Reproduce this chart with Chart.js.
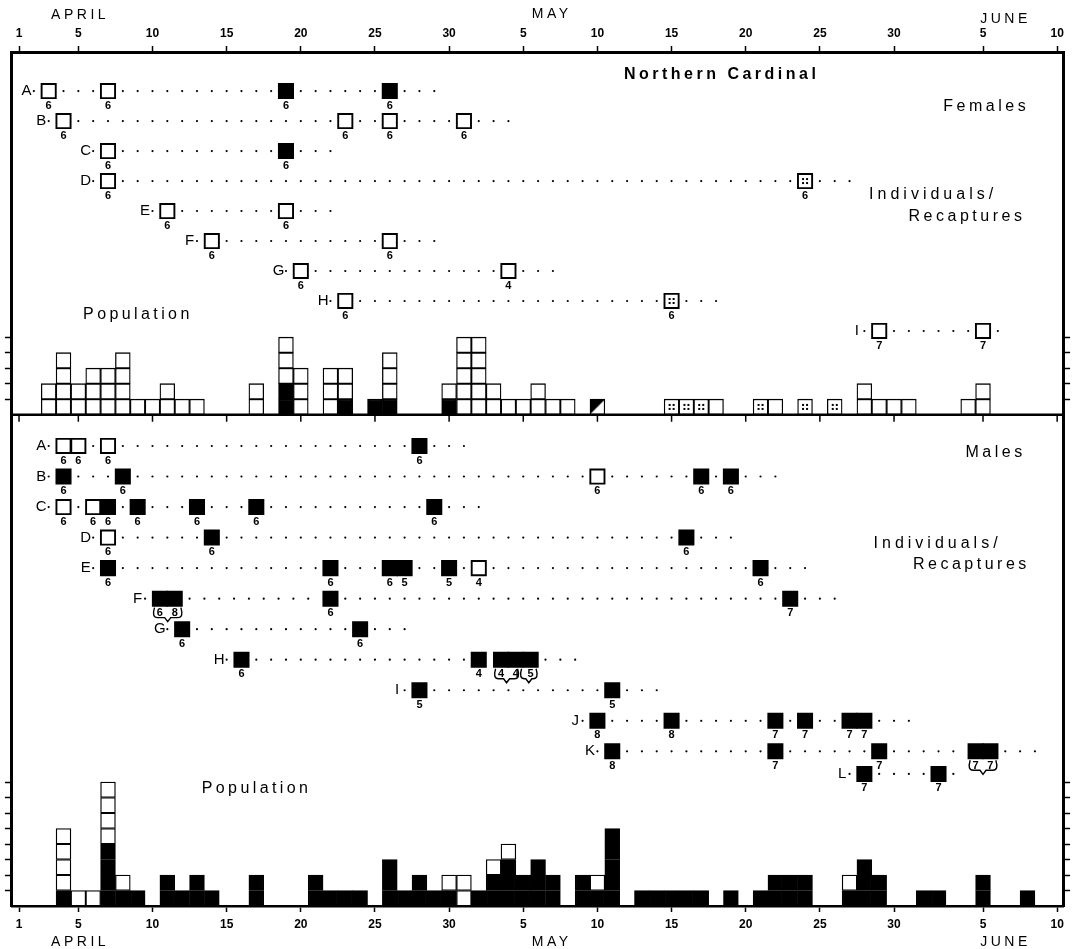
<!DOCTYPE html>
<html>
<head>
<meta charset="utf-8">
<title>Northern Cardinal</title>
<script src="https://cdn.jsdelivr.net/npm/chart.js@4.4.1/dist/chart.umd.min.js"></script>
<style>
  html, body { margin: 0; padding: 0; background: #fff; }
  canvas { display: block; }
</style>
</head>
<body>
<canvas id="chart" width="1075" height="949"></canvas>
<script>
// days counted from 1 April (1 May = 31, 1 June = 62)
const tickDays   = [1, 5, 10, 15, 20, 25, 30, 35, 40, 45, 50, 55, 60, 66, 71];
const tickLabels = ['1', '5', '10', '15', '20', '25', '30', '5', '10', '15', '20', '25', '30', '5', '10'];
const months     = ['APRIL', 'MAY', 'JUNE'];
const monthDays  = [5, 36.8, 67.4];

// population: one string per day, cells from the bottom up
// f = black, o = open, d = dotted, t = half black
const femalePopDays  = [3, 4, 5, 6, 7, 8, 9, 10, 11, 12, 13, 17, 19, 20, 22, 23, 25, 26,
                        30, 31, 32, 33, 34, 35, 36, 37, 38, 40, 45, 46, 47, 48, 51, 52, 54, 56,
                        58, 59, 60, 61, 65, 66];
const femalePopCells = ['oo', 'oooo', 'oo', 'ooo', 'ooo', 'oooo', 'o', 'o', 'oo', 'o', 'o', 'oo', 'ffooo', 'ooo', 'ooo', 'foo', 'f', 'fooo',
                        'fo', 'ooooo', 'ooooo', 'oo', 'o', 'o', 'oo', 'o', 'o', 't', 'd', 'd', 'd', 'o', 'd', 'o', 'd', 'd',
                        'oo', 'o', 'o', 'o', 'o', 'oo'];

const malePopDays  = [4, 5, 6, 7, 8, 9, 11, 12, 13, 14, 17, 21, 22, 23, 24,
                      26, 27, 28, 29, 30, 31, 32, 33, 34, 35, 36, 37, 39, 40, 41,
                      43, 44, 45, 46, 47, 49, 51, 52, 53, 54, 57, 58, 59, 62, 63, 66, 69];
const malePopCells = ['foooo', 'o', 'o', 'ffffoooo', 'fo', 'f', 'ff', 'f', 'ff', 'f', 'ff', 'ff', 'f', 'f', 'f',
                      'fff', 'f', 'ff', 'f', 'fo', 'oo', 'f', 'ffo', 'fffo', 'ff', 'fff', 'ff', 'ff', 'fo', 'fffff',
                      'f', 'f', 'f', 'f', 'f', 'f', 'f', 'ff', 'ff', 'ff', 'fo', 'fff', 'ff', 'f', 'f', 'ff', 'f'];

// captures: [bird, day, mark, number printed under it]
const femaleBirds = ['A', 'B', 'C', 'D', 'E', 'F', 'G', 'H', 'I'];
const femaleTrail = [3, 3, 3, 3, 3, 3, 3, 3, 1];
const femaleCaptures = [
  ['A', 3, 'o', '6'], ['A', 7, 'o', '6'], ['A', 19, 'f', '6'], ['A', 26, 'f', '6'],
  ['B', 4, 'o', '6'], ['B', 23, 'o', '6'], ['B', 26, 'o', '6'], ['B', 31, 'o', '6'],
  ['C', 7, 'o', '6'], ['C', 19, 'f', '6'],
  ['D', 7, 'o', '6'], ['D', 54, 'd', '6'],
  ['E', 11, 'o', '6'], ['E', 19, 'o', '6'],
  ['F', 14, 'o', '6'], ['F', 26, 'o', '6'],
  ['G', 20, 'o', '6'], ['G', 34, 'o', '4'],
  ['H', 23, 'o', '6'], ['H', 45, 'd', '6'],
  ['I', 59, 'o', '7'], ['I', 66, 'o', '7']
];

const maleBirds = ['A', 'B', 'C', 'D', 'E', 'F', 'G', 'H', 'I', 'J', 'K', 'L'];
const maleTrail = [3, 3, 3, 3, 3, 3, 3, 3, 3, 3, 3, 1];
const maleCaptures = [
  ['A', 4, 'o', '6'], ['A', 5, 'o', '6'], ['A', 7, 'o', '6'], ['A', 28, 'f', '6'],
  ['B', 4, 'f', '6'], ['B', 8, 'f', '6'], ['B', 40, 'o', '6'], ['B', 47, 'f', '6'], ['B', 49, 'f', '6'],
  ['C', 4, 'o', '6'], ['C', 6, 'o', '6'], ['C', 7, 'f', '6'], ['C', 9, 'f', '6'], ['C', 13, 'f', '6'], ['C', 17, 'f', '6'], ['C', 29, 'f', '6'],
  ['D', 7, 'o', '6'], ['D', 14, 'f', '6'], ['D', 46, 'f', '6'],
  ['E', 7, 'f', '6'], ['E', 22, 'f', '6'], ['E', 26, 'f', '6'], ['E', 27, 'f', '5'], ['E', 30, 'f', '5'], ['E', 32, 'o', '4'], ['E', 51, 'f', '6'],
  ['F', 10.5, 'f', '6'], ['F', 11.5, 'f', '8'], ['F', 22, 'f', '6'], ['F', 53, 'f', '7'],
  ['G', 12, 'f', '6'], ['G', 24, 'f', '6'],
  ['H', 16, 'f', '6'], ['H', 32, 'f', '4'], ['H', 33.5, 'f', '4'], ['H', 34.5, 'f', '4'], ['H', 35.5, 'f', '5'],
  ['I', 28, 'f', '5'], ['I', 41, 'f', '5'],
  ['J', 40, 'f', '8'], ['J', 45, 'f', '8'], ['J', 52, 'f', '7'], ['J', 54, 'f', '7'], ['J', 57, 'f', '7'], ['J', 58, 'f', '7'],
  ['K', 41, 'f', '8'], ['K', 52, 'f', '7'], ['K', 59, 'f', '7'], ['K', 65.5, 'f', '7'], ['K', 66.5, 'f', '7'],
  ['L', 58, 'f', '7'], ['L', 63, 'f', '7']
];
// same-day captures tied together under the numbers: [bird, from day, to day]
const maleBraces = [['F', 10.0, 12.05], ['H', 33.0, 34.75], ['H', 34.75, 36.0], ['K', 65.0, 67.0]];

// layout (x in days, y in cell units)
const X_MIN = 0.52, X_MAX = 71.4, Y_MAX = 55.1;
const FEMALE_BASE = 31.7;
const femaleRowY = i => 52.58 - 1.935 * i;
const maleSlots = [0, 1, 2, 3, 4, 5, 6, 7, 8, 9, 10, 10.74];
const maleRowY = i => 29.68 - 1.97 * maleSlots[i];
const monthTop = [15, 14, 19];

const notes = [
  ['Northern Cardinal', 48.26, 53.63, 'bold 16px "Liberation Sans"', 3.5],
  ['Females', 66.1, 51.6, '16px "Liberation Sans"', 3.5],
  ['Individuals/', 62.5, 45.9, '16px "Liberation Sans"', 4],
  ['Recaptures', 64.8, 44.45, '16px "Liberation Sans"', 3.5],
  ['Population', 8.9, 38.17, '16px "Liberation Sans"', 3.4],
  ['Males', 66.73, 29.23, '16px "Liberation Sans"', 3.5],
  ['Individuals/', 62.8, 23.39, '16px "Liberation Sans"', 4],
  ['Recaptures', 65.1, 22.05, '16px "Liberation Sans"', 3.5],
  ['Population', 16.9, 7.55, '16px "Liberation Sans"', 3.4]
];

function popBars(days, cells, base) {
  const out = [];
  days.forEach((d, i) => {
    [...cells[i]].forEach((t, k) => out.push({x: d, y: [base + k, base + k + 1], t}));
  });
  return out;
}

function popMarks(days, cells, base) {
  const out = [];
  days.forEach((d, i) => {
    [...cells[i]].forEach((t, k) => { if (t === 'd' || t === 't') out.push({x: d, y: base + k + 0.5, t}); });
  });
  return out;
}

function rows(birds, captures, rowY, trail) {
  const squares = [], dots = [], letters = [];
  birds.forEach((b, i) => {
    const yv = rowY(i);
    const caps = captures.filter(c => c[0] === b);
    const days = caps.map(c => c[1]);
    caps.forEach(c => squares.push({x: c[1], y: yv, t: c[2], n: c[3]}));
    dots.push({x: days[0] - 1, y: yv});
    days.forEach((d0, j) => {
      const next = j + 1 < days.length ? days[j + 1] : d0 + trail[i] + 1;
      for (let d = d0 + 1; d <= next - 1 + 1e-6; d++) dots.push({x: d, y: yv});
    });
    letters.push({x: days[0] - 1.5, y: yv, text: b});
  });
  return {squares, dots, letters};
}

const fem = rows(femaleBirds, femaleCaptures, femaleRowY, femaleTrail);
const mal = rows(maleBirds, maleCaptures, maleRowY, maleTrail);
const squares = fem.squares.concat(mal.squares);
const marks = popMarks(femalePopDays, femalePopCells, FEMALE_BASE)
  .concat(squares.filter(s => s.t === 'd'));

// little bitmaps for the dotted and half-black cells
function dotsImage() {
  const c = document.createElement('canvas');
  c.width = 8; c.height = 8;
  const g = c.getContext('2d');
  g.fillStyle = '#000';
  [[1, 1], [5, 1], [1, 5], [5, 5]].forEach(([a, b]) => g.fillRect(a, b, 2, 2));
  return c;
}
function halfImage() {
  const c = document.createElement('canvas');
  c.width = 15; c.height = 15;
  const g = c.getContext('2d');
  g.fillStyle = '#000';
  g.beginPath(); g.moveTo(0, 0); g.lineTo(15, 0); g.lineTo(0, 15); g.closePath(); g.fill();
  return c;
}
const dotsImg = dotsImage();
const halfImg = halfImage();

function spacedText(ctx, text, x, y, spacing) {
  if ('letterSpacing' in ctx) {
    ctx.letterSpacing = spacing + 'px';
    ctx.fillText(text, x + spacing / 2, y);
    ctx.letterSpacing = '0px';
  } else {
    ctx.fillText(text, x, y);
  }
}

const annotate = {
  id: 'annotate',
  afterDatasetsDraw(chart) {
    const {ctx, chartArea: area} = chart;
    const x = chart.scales.x, y = chart.scales.y;
    ctx.save();
    ctx.fillStyle = '#000';
    ctx.strokeStyle = '#000';

    // line between the two panels
    const yd = y.getPixelForValue(FEMALE_BASE);
    ctx.lineWidth = 2.5;
    ctx.beginPath();
    ctx.moveTo(area.left, yd);
    ctx.lineTo(area.right, yd);
    ctx.stroke();
    ctx.lineWidth = 1.5;
    ctx.beginPath();
    tickDays.forEach(d => {
      const px = x.getPixelForValue(d);
      ctx.moveTo(px, yd);
      ctx.lineTo(px, yd + 7);
    });
    ctx.stroke();

    // bird letters
    ctx.textAlign = 'center';
    ctx.textBaseline = 'middle';
    ctx.font = '15px "Liberation Sans"';
    fem.letters.concat(mal.letters).forEach(l => {
      ctx.fillText(l.text, x.getPixelForValue(l.x), y.getPixelForValue(l.y));
    });

    // numbers under the squares
    ctx.font = 'bold 11px "Liberation Sans"';
    squares.forEach(s => {
      ctx.fillText(s.n, x.getPixelForValue(s.x), y.getPixelForValue(s.y) + 14.5);
    });

    // braces
    ctx.lineWidth = 1.4;
    maleBraces.forEach(([b, d1, d2]) => {
      const py = y.getPixelForValue(maleRowY(maleBirds.indexOf(b)));
      const x1 = x.getPixelForValue(d1), x2 = x.getPixelForValue(d2), xm = (x1 + x2) / 2;
      const yT = py + 9, yB = py + 22;
      ctx.beginPath();
      ctx.moveTo(x1 + 2, yT);
      ctx.quadraticCurveTo(x1 - 1, yB - 3, x1 + 5, yB - 3);
      ctx.lineTo(xm - 3, yB - 3);
      ctx.lineTo(xm, yB + 1);
      ctx.lineTo(xm + 3, yB - 3);
      ctx.lineTo(x2 - 5, yB - 3);
      ctx.quadraticCurveTo(x2 + 1, yB - 3, x2 - 2, yT);
      ctx.stroke();
    });

    // panel labels
    notes.forEach(([text, d, v, font, sp]) => {
      ctx.font = font;
      spacedText(ctx, text, x.getPixelForValue(d), y.getPixelForValue(v), sp);
    });

    // month names above and below the axes
    ctx.font = '14px "Liberation Sans"';
    months.forEach((m, i) => {
      const px = x.getPixelForValue(monthDays[i]);
      spacedText(ctx, m, px, monthTop[i], 3.5);
      spacedText(ctx, m, px, area.bottom + 36, 3.5);
    });
    ctx.restore();
  }
};

const yTicks = [1, 2, 3, 4, 5, 6, 7, 8].concat([1, 2, 3, 4, 5].map(v => FEMALE_BASE + v));

function dayAxis(position, height) {
  return {
    type: 'linear', position, min: X_MIN, max: X_MAX, offset: false,
    afterBuildTicks: s => { s.ticks = tickDays.map(v => ({value: v})); },
    afterFit: s => { s.height = height; },
    ticks: {
      callback: (v, i) => tickLabels[i], color: '#000', padding: 5,
      autoSkip: false, maxRotation: 0,
      font: {family: 'Liberation Sans', weight: 'bold', size: 12}
    },
    grid: {drawOnChartArea: false, offset: false, tickLength: 6, tickWidth: 1.5, tickColor: '#000'},
    border: {color: '#000', width: position === 'top' ? 3 : 2.5}
  };
}

function levelAxis(position, width) {
  return {
    type: 'linear', position, min: 0, max: Y_MAX,
    afterBuildTicks: s => { s.ticks = yTicks.map(v => ({value: v})); },
    afterFit: s => { s.width = width; },
    ticks: {display: false},
    grid: {drawOnChartArea: false, tickLength: 7, tickWidth: 1.5, tickColor: '#000'},
    border: {color: '#000', width: 3}
  };
}

const cellColor = c => (c.raw && c.raw.t === 'f') ? '#000' : '#fff';

new Chart(document.getElementById('chart'), {
  type: 'bar',
  data: {
    datasets: [
      {
        type: 'scatter', label: 'marks', data: marks, order: 0,
        pointStyle: c => (c.raw && c.raw.t === 't') ? halfImg : dotsImg,
        pointRadius: 6
      },
      {
        type: 'scatter', label: 'captures', data: squares, order: 1,
        pointStyle: 'rect', pointRadius: 10,
        pointBackgroundColor: cellColor, pointBorderColor: '#000', pointBorderWidth: 1.9
      },
      {
        type: 'scatter', label: 'days alive', data: fem.dots.concat(mal.dots), order: 2,
        pointRadius: 1.1, pointBackgroundColor: '#000', pointBorderWidth: 0
      },
      {
        label: 'female population', data: popBars(femalePopDays, femalePopCells, FEMALE_BASE), order: 3,
        backgroundColor: cellColor, borderColor: '#000', borderWidth: 1.3, borderSkipped: false,
        grouped: false, barPercentage: 1, categoryPercentage: 1
      },
      {
        label: 'male population', data: popBars(malePopDays, malePopCells, 0), order: 3,
        backgroundColor: cellColor, borderColor: '#000', borderWidth: 1.3, borderSkipped: false,
        grouped: false, barPercentage: 1, categoryPercentage: 1
      }
    ]
  },
  options: {
    responsive: false,
    animation: false,
    events: [],
    layout: {padding: 0},
    plugins: {legend: {display: false}, tooltip: {enabled: false}},
    scales: {
      x: dayAxis('bottom', 43),
      xTop: dayAxis('top', 52),
      y: levelAxis('left', 8),
      yRight: levelAxis('right', 11.5)
    }
  },
  plugins: [annotate]
});
</script>
</body>
</html>
